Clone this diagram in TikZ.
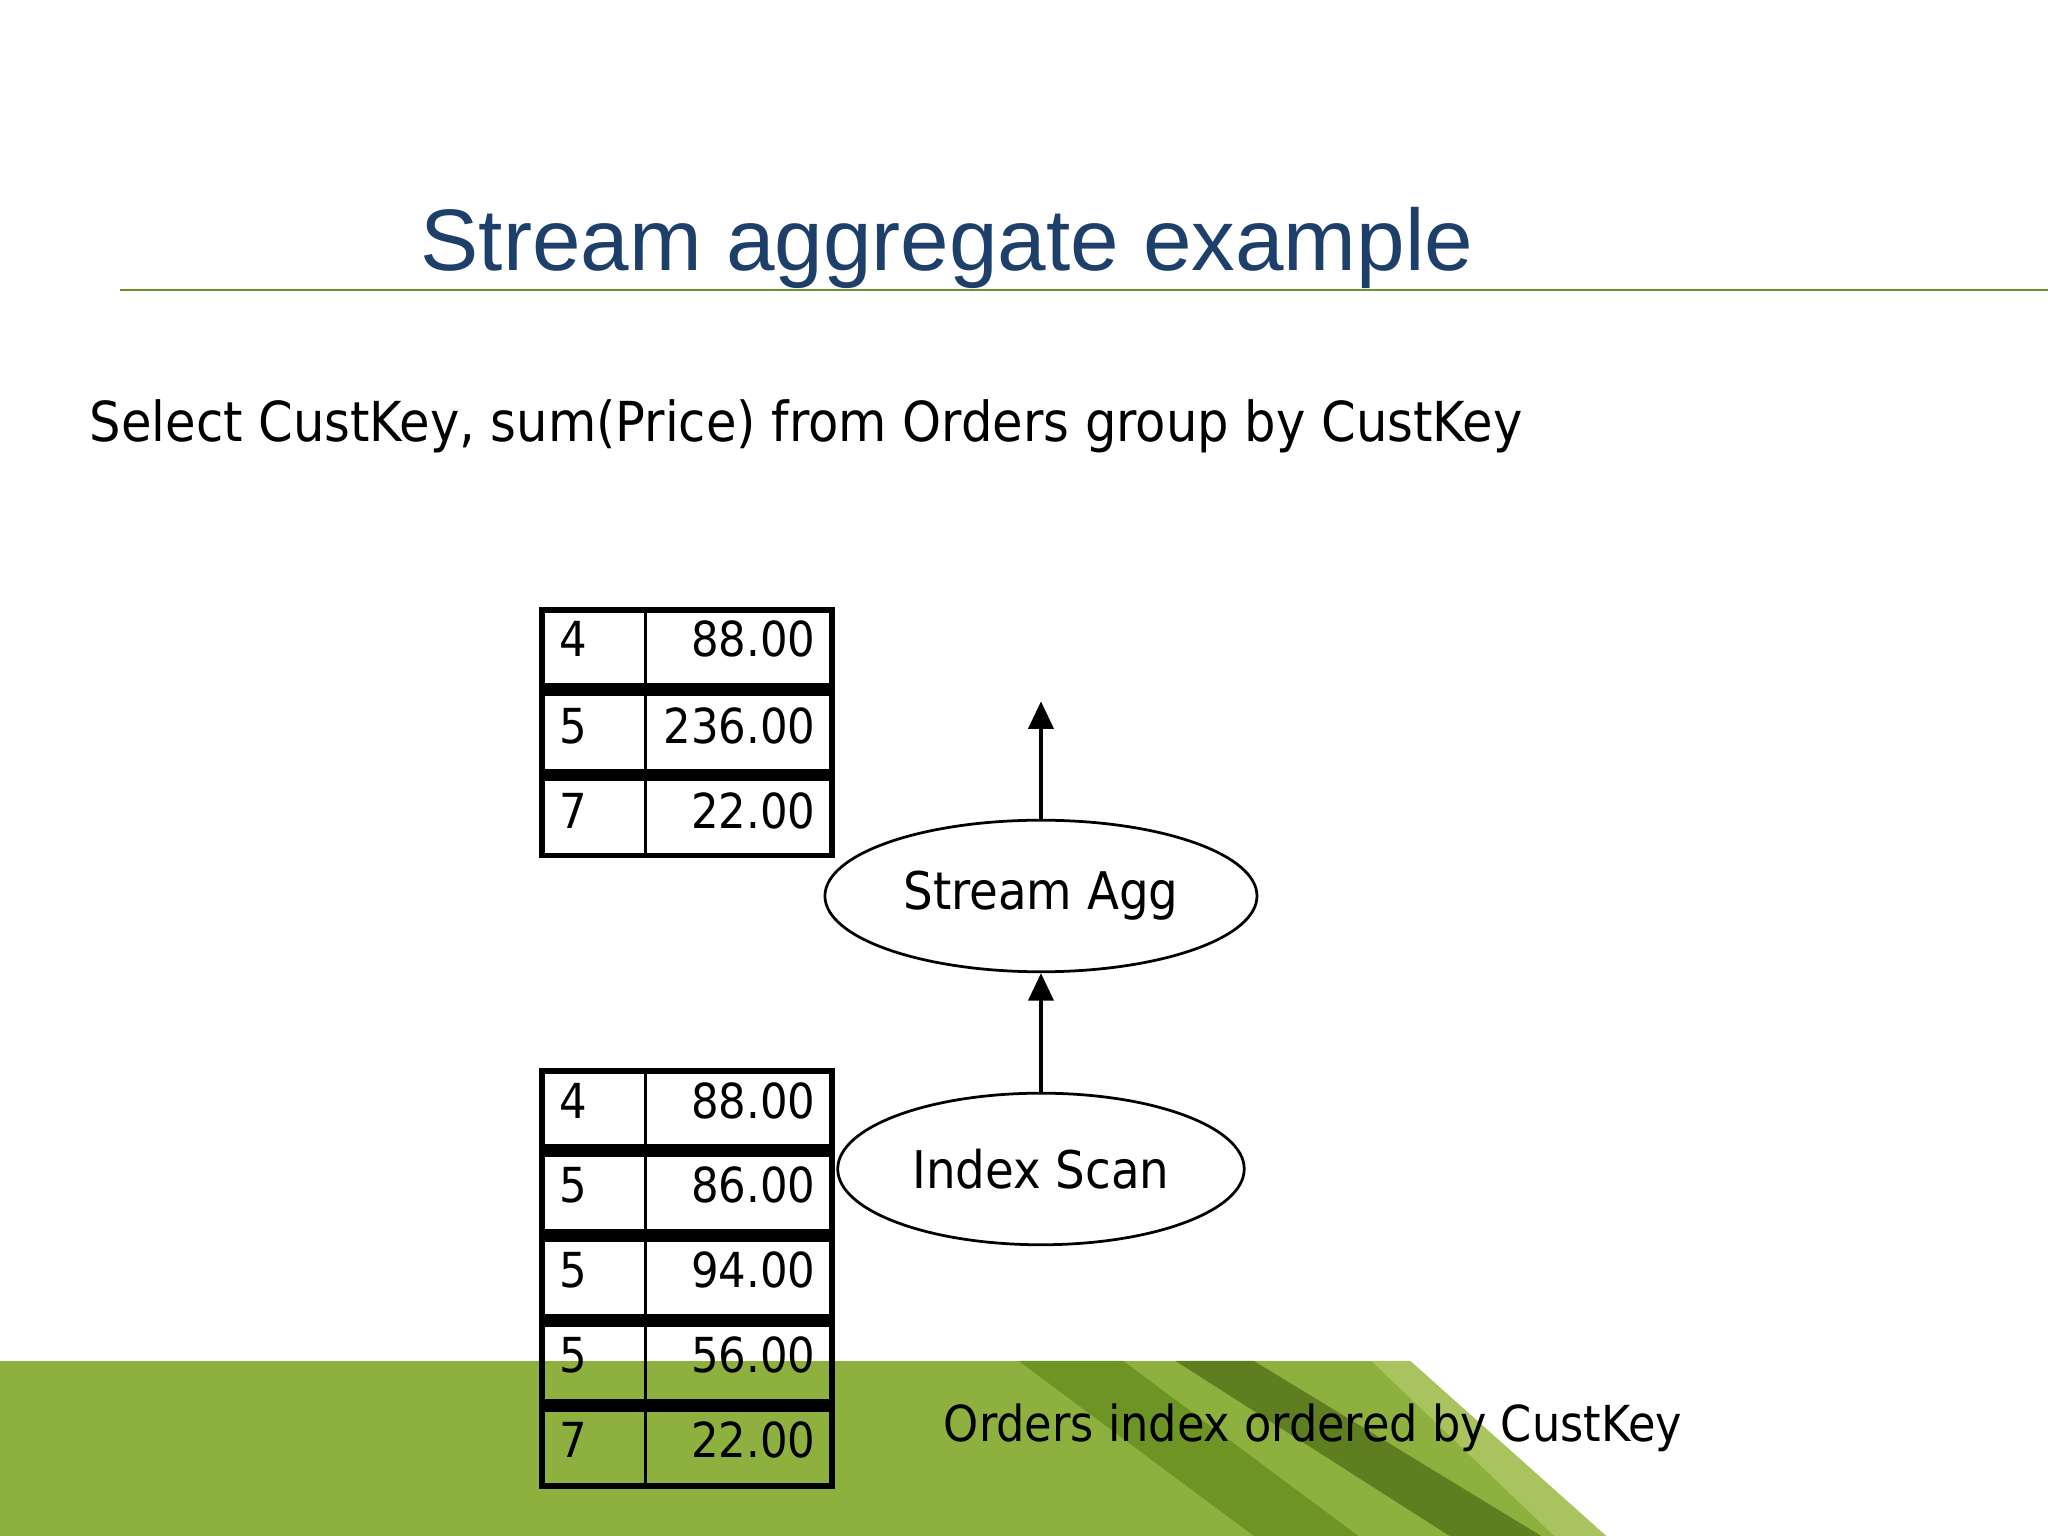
\documentclass[tikz,border=0pt]{standalone}
\usepackage{fontspec}
\setmainfont{DejaVu Sans Condensed}
\newfontfamily\titlefont{Liberation Sans}
\usetikzlibrary{shapes.geometric,arrows.meta}
\definecolor{titleblue}{HTML}{1F3F6B}
\definecolor{bandgreen}{HTML}{8DB03F}
\definecolor{darkgreen}{HTML}{6E9426}
\definecolor{lightgreen}{HTML}{A9C45E}
\begin{document}
\begin{tikzpicture}[x=0.01cm,y=-0.01cm,
  oval/.style={draw,ellipse,minimum width=2.34cm,minimum height=1.16cm,line width=0.6pt,font=\fontsize{11.3}{13}\selectfont},
  cell/.style={font=\fontsize{10.5}{12}\selectfont,inner sep=0pt},
  arr/.style={-{Triangle[length=6pt,width=5.5pt]},line width=0.7pt}]
\useasboundingbox (0,0) rectangle (1568,1176);
% band
\fill[bandgreen] (0,1042) rectangle (1568,1176);
\fill[darkgreen] (780,1042) -- (860,1042) -- (1040,1176) -- (960,1176) -- cycle;
\fill[darkgreen!85!black] (900,1042) -- (960,1042) -- (1180,1176) -- (1110,1176) -- cycle;
\fill[lightgreen] (1050,1042) -- (1080,1042) -- (1230,1176) -- (1190,1176) -- cycle;
\fill[white] (1080,1042) -- (1568,1042) -- (1568,1176) -- (1230,1176) -- cycle;
% title
\node[font=\titlefont\fontsize{19}{22}\selectfont,text=titleblue,anchor=base] (title) at (725,207) {Stream aggregate example};
\draw[darkgreen,line width=0.6pt] (92,222) coordinate (l1) -- (1568,222) coordinate (l2);
\node[anchor=base west,font=\fontsize{12}{14}\selectfont,inner sep=0pt] (q) at (68,338) {Select CustKey, sum(Price) from Orders group by CustKey};
% top table
\foreach \i/\k/\v/\y in {0/4/88.00/467,1/5/236.00/533,2/7/22.00/598}{
  \node[cell,anchor=base west] (tk\i) at (428,\y+36) {\k};
  \node[cell,anchor=base east] (tv\i) at (625,\y+36) {\v};
}
\draw[line width=1.3pt] (415,467) rectangle (637,655);
\fill (415,523) rectangle (637,533);
\fill (415,589) rectangle (637,598);
\draw[line width=0.7pt] (494,467) -- (494,655);
% bottom table
\foreach \i/\k/\v/\y in {0/4/88.00/820,1/5/86.00/885,2/5/94.00/950,3/5/56.00/1015,4/7/22.00/1080}{
  \node[cell,anchor=base west] (bk\i) at (428,\y+36) {\k};
  \node[cell,anchor=base east] (bv\i) at (625,\y+36) {\v};
}
\draw[line width=1.3pt] (415,820) rectangle (637,1138);
\foreach \y in {876,941,1006,1071}{\fill (415,\y) rectangle (637,\y+10);}
\draw[line width=0.7pt] (494,820) -- (494,1138);
% ovals
\node[oval] (agg) at (797,686) {Stream Agg};
\node[oval] (scan) at (797,895) {Index Scan};
\coordinate (out) at (797,537);
\draw[arr] (scan) -- (agg);
\draw[arr] (agg) -- (out);
\node[anchor=base west,font=\fontsize{10.8}{13}\selectfont,inner sep=0pt] (cap) at (722,1104) {Orders index ordered by CustKey};
\end{tikzpicture}
\end{document}
